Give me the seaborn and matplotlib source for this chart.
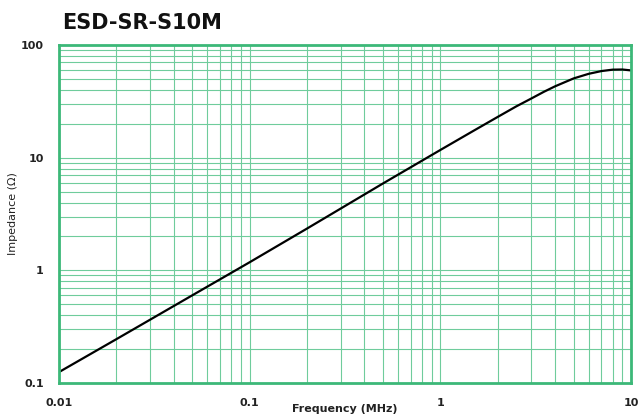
import numpy as np
import pandas as pd
import matplotlib
matplotlib.use("Agg")
import matplotlib.pyplot as plt
import seaborn as sns
from matplotlib.ticker import LogLocator, FixedLocator, NullFormatter

# datos
freq_mhz = [0.01, 0.02, 0.05, 0.1, 0.2, 0.5, 1, 1.5, 2, 2.5, 3, 3.5, 4, 5, 6, 7, 8, 9, 10]
impedance = [0.125, 0.245, 0.6, 1.18, 2.35, 5.9, 11.7, 17.4, 23, 28.5, 33.5, 38.5, 43, 50.5, 55.5, 58.7, 60.4, 60.6, 59.5]

x_ticks = [0.01, 0.1, 1, 10]
x_labels = ["0.01", "0.1", "1", "10"]
y_ticks = [0.1, 1, 10, 100]
y_labels = ["0.1", "1", "10", "100"]

df = pd.DataFrame({"freq": freq_mhz, "z": impedance})

sns.set_style("white")
plt.rcParams["font.family"] = ["DejaVu Sans"]
grid_green = "#6fcc9c"
border_green = "#3cb878"

fig = plt.figure(figsize=(6.42, 4.17), dpi=100)
ax = fig.add_axes([59 / 642, 34 / 417, 572 / 642, 338 / 417])

sns.lineplot(data=df, x="freq", y="z", ax=ax, color="black", linewidth=1.6)

ax.set_xscale("log")
ax.set_yscale("log")
ax.set_xlim(0.01, 10)
ax.set_ylim(0.1, 100)

ax.xaxis.set_major_locator(FixedLocator(x_ticks))
ax.set_xticklabels(x_labels, fontsize=8, fontweight="bold", color="#222222")
ax.yaxis.set_major_locator(FixedLocator(y_ticks))
ax.set_yticklabels(y_labels, fontsize=8, fontweight="bold", color="#222222")
ax.xaxis.set_minor_locator(LogLocator(base=10, subs=np.arange(2, 10)))
ax.yaxis.set_minor_locator(LogLocator(base=10, subs=np.arange(2, 10)))
ax.xaxis.set_minor_formatter(NullFormatter())
ax.yaxis.set_minor_formatter(NullFormatter())
ax.tick_params(which="both", length=0)
ax.tick_params(axis="x", pad=11)
ax.tick_params(axis="y", pad=11)

ax.grid(True, which="both", color=grid_green, linewidth=0.8)
for s in ax.spines.values():
    s.set_color(border_green)
    s.set_linewidth(2)

ax.set_xlabel("Frequency (MHz)", fontsize=8, fontweight="bold", color="#222222")
ax.xaxis.set_label_coords(0.5, -21 / 338)
ax.set_ylabel("Impedance (Ω)", fontsize=8, color="#222222")
ax.yaxis.set_label_coords(-41 / 572, 0.5)

fig.text(62 / 642, 1 - 23 / 417, "ESD-SR-S10M", fontsize=15, fontweight="bold",
         va="center", ha="left", color="#111111")

fig.savefig("out.png", dpi=100)
